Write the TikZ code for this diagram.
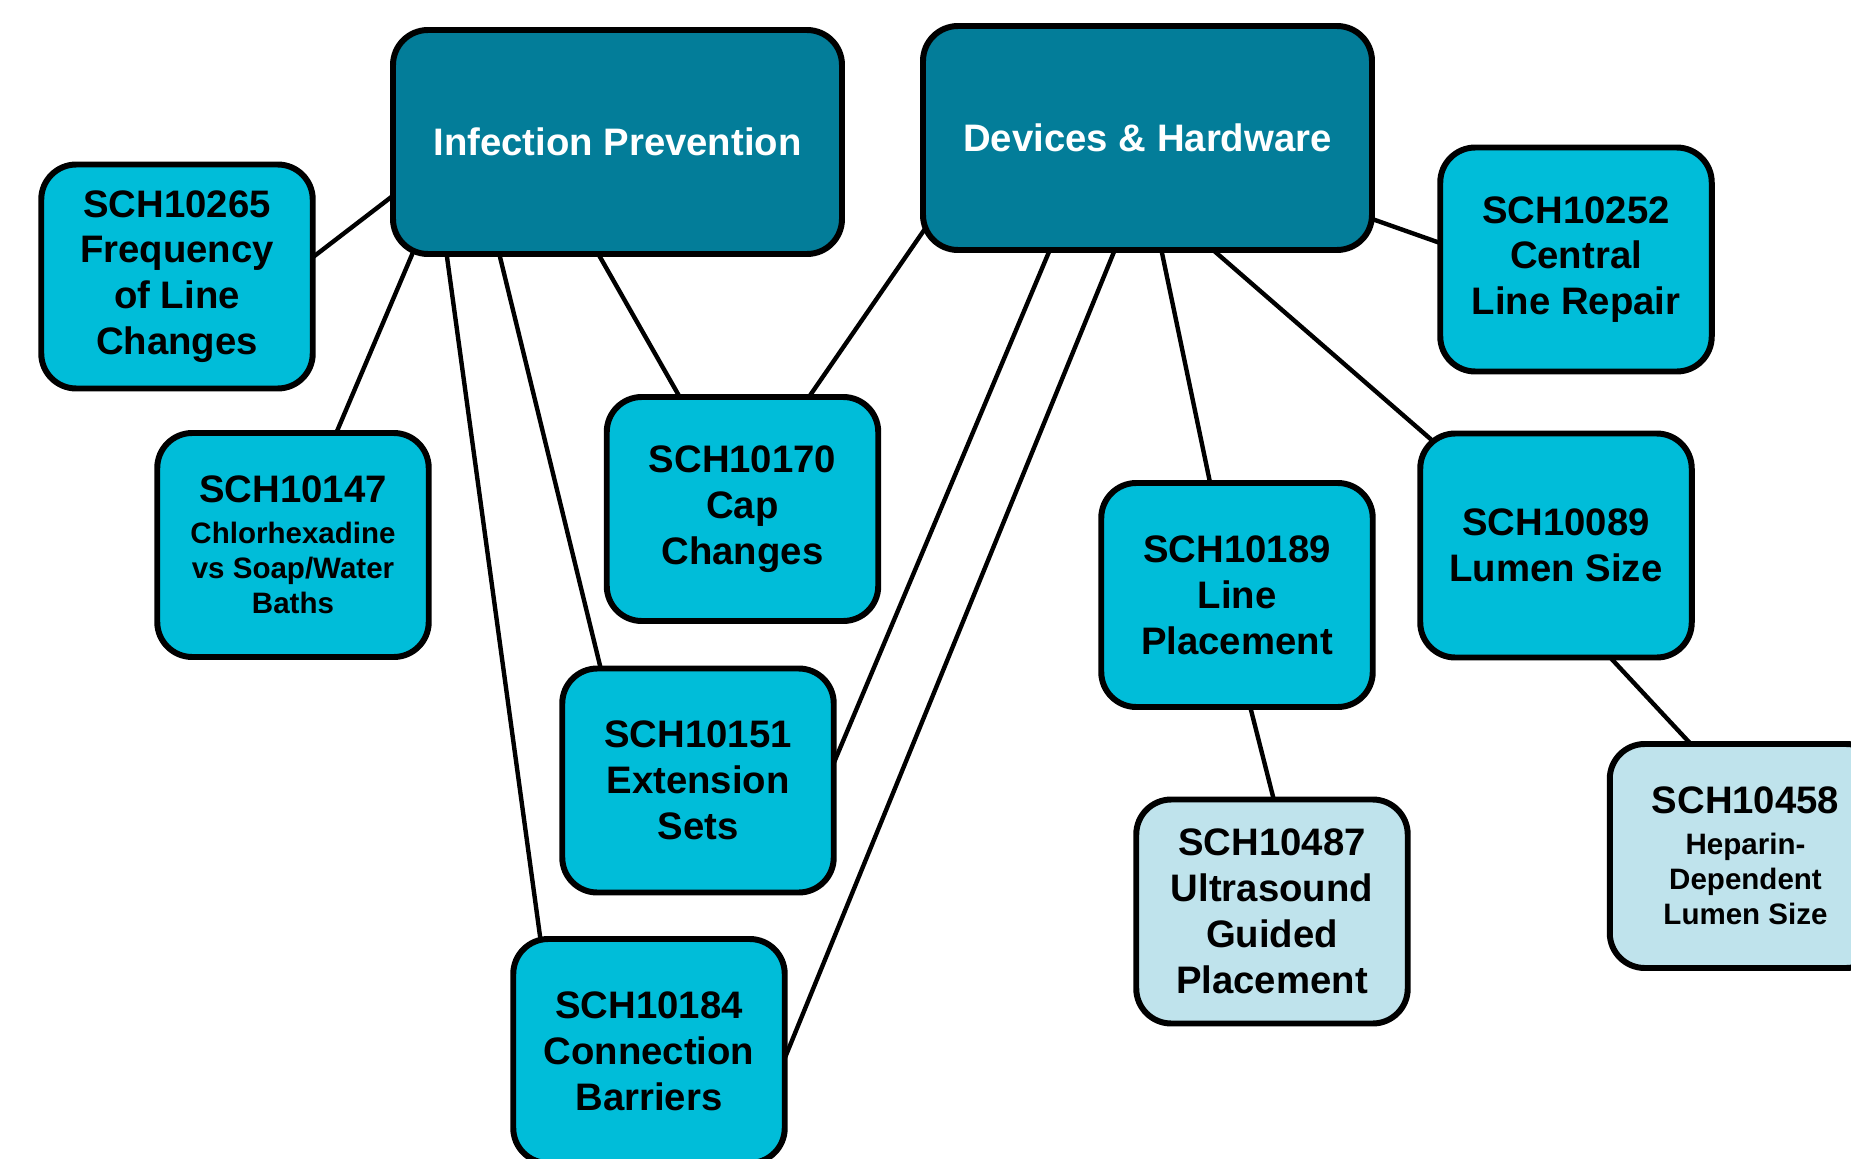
\documentclass[tikz,border=0pt]{standalone}
\usepackage{fontspec}
\setmainfont{Liberation Sans}
\usetikzlibrary{backgrounds}

\definecolor{topicblue}{HTML}{037D99}
\definecolor{studyblue}{HTML}{00BDD9}
\definecolor{lightblue}{HTML}{BFE3EC}

\newcommand{\bigsz}{\fontsize{21.8}{26.1}\selectfont}
\newcommand{\smallsz}{\fontsize{16.8}{20}\selectfont}

\tikzset{
  topic/.style={draw, line width=3.4pt, rounded corners=0.7cm, fill=topicblue,
    minimum width=8.98cm, minimum height=4.48cm, inner sep=0pt, align=center,
    text=white, font=\bigsz\bfseries},
  study/.style={draw, line width=3.4pt, rounded corners=0.7cm, fill=studyblue,
    minimum width=5.43cm, minimum height=4.48cm, inner sep=0pt, align=center,
    font=\bigsz\bfseries},
  substudy/.style={study, fill=lightblue},
  link/.style={line width=2.5pt, shorten <=-10pt, shorten >=-10pt}
}

\begin{document}
\begin{tikzpicture}
	\useasboundingbox (0,0) rectangle (37.02,-23.18);

	% 两个主题
	\node[topic] (ip) at (12.35,-2.84) {Infection Prevention};
	\node[topic] (dh) at (22.95,-2.76) {Devices \& Hardware};

	% 感染预防下的研究
	\node[study] (s10265) at (3.54,-5.53) {SCH10265\\Frequency\\of Line\\Changes};
	\node[study, font=\smallsz\bfseries] (s10147) at (5.86,-10.9)
		{{\bigsz SCH10147}\\[3pt]Chlorhexadine\\vs Soap/Water\\Baths};
	\node[study] (s10170) at (14.85,-10.18) {SCH10170\\Cap\\Changes};
	\node[study] (s10151) at (13.96,-15.61) {SCH10151\\Extension\\Sets};
	\node[study] (s10184) at (12.98,-21.02) {SCH10184\\Connection\\Barriers};

	% 器械与硬件下的研究
	\node[study] (s10189) at (24.74,-11.9) {SCH10189\\Line\\Placement};
	\node[substudy] (s10487) at (25.44,-18.23) {SCH10487\\Ultrasound\\Guided\\Placement};
	\node[study] (s10252) at (31.52,-5.19) {SCH10252\\Central\\Line Repair};
	\node[study] (s10089) at (31.12,-10.91) {SCH10089\\Lumen Size};
	\node[substudy, font=\smallsz\bfseries] (s10458) at (34.91,-17.12)
		{{\bigsz SCH10458}\\[3pt]Heparin-\\Dependent\\Lumen Size};

	% 连线
	\begin{pgfonlayer}{background}
		\draw[link] ([yshift=-1.12cm]ip.west) -- ([yshift=0.43cm]s10265.east);
		\draw[link] ([xshift=0.42cm]ip.south west) -- ([xshift=0.89cm]s10147.north);
		\draw[link] ([xshift=1.14cm]ip.south west) -- ([xshift=-2.18cm]s10184.north);
		\draw[link] ([xshift=2.2cm]ip.south west) -- ([xshift=-1.96cm]s10151.north);
		\draw[link] ([xshift=4.2cm]ip.south west) -- ([xshift=-1.29cm]s10170.north);

		\draw[link] ([yshift=-1.96cm]dh.west) -- ([xshift=1.37cm]s10170.north);
		\draw[link] ([xshift=2.57cm]dh.south west) -- ([yshift=0.49cm]s10151.east);
		\draw[link] ([xshift=3.87cm]dh.south west) -- (s10184.east);
		\draw[link] ([xshift=4.84cm]dh.south west) -- ([xshift=-0.55cm]s10189.north);
		\draw[link] ([xshift=5.93cm]dh.south west) -- ([xshift=0.07cm]s10089.north west);
		\draw[link] ([yshift=-1.64cm]dh.east) -- ([yshift=0.35cm]s10252.west);

		\draw[link] ([xshift=0.28cm]s10189.south) -- ([xshift=0.02cm]s10487.north);
		\draw[link] ([xshift=1.14cm]s10089.south) -- ([xshift=-1.15cm]s10458.north);
	\end{pgfonlayer}
\end{tikzpicture}
\end{document}
